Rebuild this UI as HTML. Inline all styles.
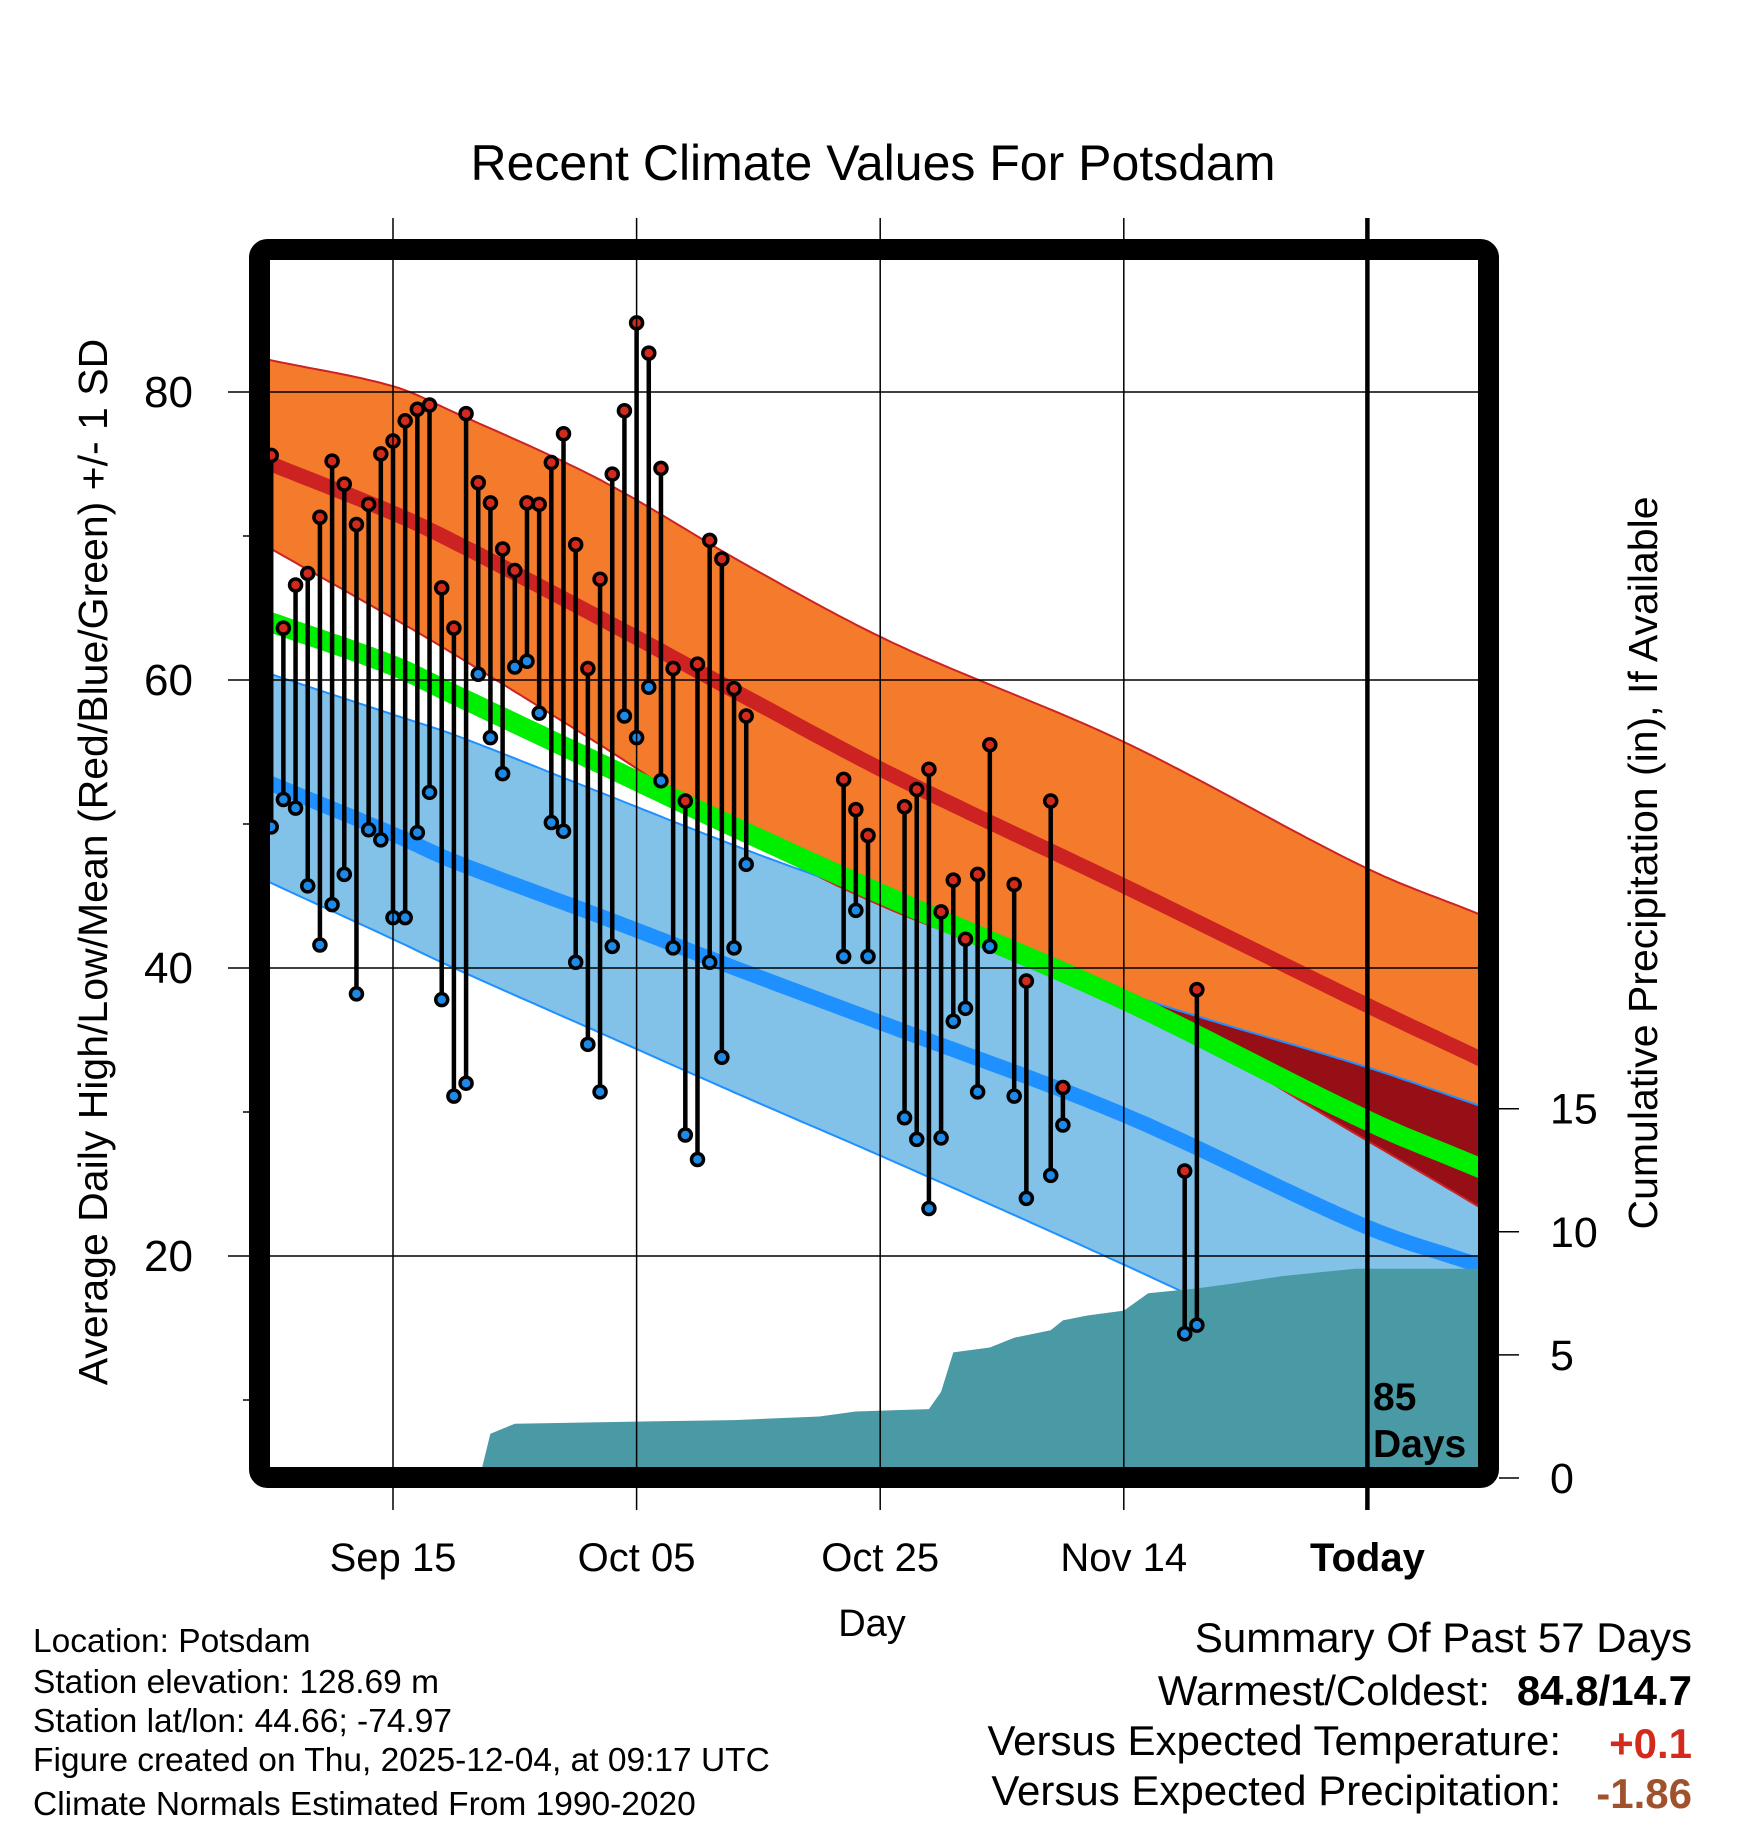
<!DOCTYPE html>
<html><head><meta charset="utf-8"><style>
html,body{margin:0;padding:0;background:#fff;}
svg{display:block;font-family:"Liberation Sans",sans-serif;}
</style></head><body>
<svg id="chart" width="1748" height="1828" viewBox="0 0 1748 1828" xmlns="http://www.w3.org/2000/svg">
<defs><clipPath id="plotclip"><rect x="270" y="260" width="1208" height="1207"/></clipPath></defs>
<text x="873" y="180" font-size="50" text-anchor="middle">Recent Climate Values For Potsdam</text>
<g id="plot" clip-path="url(#plotclip)"></g>
<g id="axes"></g>
<text transform="translate(107,862) rotate(-90)" font-size="41" text-anchor="middle">Average Daily High/Low/Mean (Red/Blue/Green) +/- 1 SD</text>
<text transform="translate(1657,863) rotate(-90)" font-size="41" text-anchor="middle">Cumulative Precipitation (in), If Available</text>
<text x="872" y="1636" font-size="38" text-anchor="middle">Day</text>
<g font-size="33.5">
<text x="33" y="1652">Location: Potsdam</text>
<text x="33" y="1693">Station elevation: 128.69 m</text>
<text x="33" y="1732">Station lat/lon: 44.66; -74.97</text>
<text x="33" y="1771">Figure created on Thu, 2025-12-04, at 09:17 UTC</text>
<text x="33" y="1815">Climate Normals Estimated From 1990-2020</text>
</g>
<g font-size="42">
<text x="1692" y="1652" text-anchor="end">Summary Of Past 57 Days</text>
<text x="1490" y="1705" text-anchor="end">Warmest/Coldest:</text>
<text x="1692" y="1705" text-anchor="end" font-weight="bold">84.8/14.7</text>
<text x="1561" y="1755" text-anchor="end">Versus Expected Temperature:</text>
<text x="1692" y="1758" text-anchor="end" font-weight="bold" fill="#d42a1e">+0.1</text>
<text x="1561" y="1805" text-anchor="end">Versus Expected Precipitation:</text>
<text x="1692" y="1808" text-anchor="end" font-weight="bold" fill="#a0522d">-1.86</text>
</g>
</svg>
<script>
// ---- data ----
const xTickDays = [0, 20, 40, 60, 80];
const xTickLabels = ["Sep 15", "Oct 05", "Oct 25", "Nov 14", "Today"];
const yTicks = [20, 40, 60, 80];
const yMinorTicks = [10, 30, 50, 70];
const precipTicks = [0, 5, 10, 15];
const todayDay = 80;
const normDays = [-10, 0, 5, 17, 29, 41, 60, 80, 89];
const normHiUpper = [82.2, 80.4, 78.6, 73.9, 68.0, 62.6, 55.7, 46.9, 43.8];
const normHiMean = [75.0, 71.6, 69.6, 64.3, 58.8, 53.4, 45.7, 37.4, 33.8];
const normHiLower = [69.1, 64.3, 61.8, 55.5, 49.0, 44.0, 37.8, 28.0, 23.5];
const normMean = [64.0, 61.0, 59.0, 54.2, 49.4, 44.8, 37.8, 29.4, 26.2];
const normLoUpper = [60.4, 57.6, 56.2, 52.2, 48.2, 44.5, 38.3, 33.1, 30.5];
const normLoMean = [52.8, 49.3, 47.4, 43.6, 39.7, 35.9, 29.8, 22.0, 19.4];
const normLoLower = [45.9, 42.0, 40.0, 35.5, 31.0, 26.6, 19.4, 11.5, 8.0];
const obsDays = [-10,-9,-8,-7,-6,-5,-4,-3,-2,-1,0,1,2,3,4,5,6,7,8,9,10,11,12,13,14,15,16,17,18,19,20,21,22,23,24,25,26,27,28,29,37,38,39,42,43,44,45,46,47,48,49,51,52,54,55,65,66];
const obsHigh = [75.6,63.6,66.6,67.4,71.3,75.2,73.6,70.8,72.2,75.7,76.6,78.0,78.8,79.1,66.4,63.6,78.5,73.7,72.3,69.1,67.6,72.3,72.2,75.1,77.1,69.4,60.8,67.0,74.3,78.7,84.8,82.7,74.7,60.8,51.6,61.1,69.7,68.4,59.4,57.5,53.1,51.0,49.2,51.2,52.4,53.8,43.9,46.1,42.0,46.5,55.5,45.8,39.1,51.6,31.7,25.9,38.5];
const obsLow = [49.8,51.7,51.1,45.7,41.6,44.4,46.5,38.2,49.6,48.9,43.5,43.5,49.4,52.2,37.8,31.1,32.0,60.4,56.0,53.5,60.9,61.3,57.7,50.1,49.5,40.4,34.7,31.4,41.5,57.5,56.0,59.5,53.0,41.4,28.4,26.7,40.4,33.8,41.4,47.2,40.8,44.0,40.8,29.6,28.1,23.3,28.2,36.3,37.2,31.4,41.5,31.1,24.0,25.6,29.1,14.6,15.2];
const precipDays = [7.1,8,10,21,28,35,38,44,45,46,49,51,54,55,57,60,62,66,69,73,79,90];
const precipTotals = [0,1.8,2.2,2.3,2.35,2.5,2.7,2.8,3.5,5.1,5.3,5.7,6.0,6.4,6.6,6.8,7.5,7.7,7.9,8.2,8.5,8.5];

// ---- scales ----
const X0 = 393, PXD = 12.18;
function xs(d){ return X0 + PXD*d; }
function ys(v){ return 392 + (80 - v)*14.4; }
function ps(p){ return 1478 - p*24.62; }
const NS = "http://www.w3.org/2000/svg";
function mk(tag, attrs, parent){ const e=document.createElementNS(NS,tag); for(const k in attrs) e.setAttribute(k,attrs[k]); parent.appendChild(e); return e; }
function slope(X,Y,i){
  const n=X.length;
  if(i===0) return (Y[1]-Y[0])/(X[1]-X[0]);
  if(i===n-1) return (Y[n-1]-Y[n-2])/(X[n-1]-X[n-2]);
  return (Y[i+1]-Y[i-1])/(X[i+1]-X[i-1]);
}
function interp(X, Y, x){
  const n=X.length;
  if (x<=X[0]) return Y[0]+slope(X,Y,0)*(x-X[0]);
  if (x>=X[n-1]) return Y[n-1]+slope(X,Y,n-1)*(x-X[n-1]);
  let i=0; while (x>X[i+1]) i++;
  const h=X[i+1]-X[i], t=(x-X[i])/h;
  const m0=slope(X,Y,i)*h, m1=slope(X,Y,i+1)*h;
  const t2=t*t, t3=t2*t;
  return (2*t3-3*t2+1)*Y[i]+(t3-2*t2+t)*m0+(-2*t3+3*t2)*Y[i+1]+(t3-t2)*m1;
}
const plot = document.getElementById('plot');
const axes = document.getElementById('axes');
const dd = []; for (let d=-11; d<=90; d+=0.5) dd.push(d);
function f(arr,d){ return interp(normDays, arr, d); }
function band(upper, lower){
  let s = dd.map((d,i)=>(i?'L':'M')+xs(d).toFixed(1)+','+ys(upper(d)).toFixed(1)).join('');
  s += dd.slice().reverse().map(d=>'L'+xs(d).toFixed(1)+','+ys(lower(d)).toFixed(1)).join('') + 'Z';
  return s;
}
function line(fn){ return dd.map((d,i)=>(i?'L':'M')+xs(d).toFixed(1)+','+ys(fn(d)).toFixed(1)).join(''); }

// bands
const hiBand = mk('path',{d:band(d=>f(normHiUpper,d), d=>f(normHiLower,d)), fill:'#f47a2c'}, plot);


const loBand = mk('path',{d:band(d=>f(normLoUpper,d), d=>f(normLoLower,d)), fill:'#82c1e8'}, plot);


const ovBand = mk('path',{d:band(d=>Math.min(f(normHiUpper,d),f(normLoUpper,d)), d=>Math.min(Math.min(f(normHiUpper,d),f(normLoUpper,d)), Math.max(f(normHiLower,d),f(normLoLower,d)))), fill:'#960f16'}, plot);


[[normHiUpper,'#cc2222','high-upper-edge'],[normHiLower,'#cc2222','high-lower-edge'],[normLoUpper,'#1e90ff','low-upper-edge'],[normLoLower,'#1e90ff','low-lower-edge']].forEach(a=>{
  const e = mk('path',{d:line(d=>f(a[0],d)), fill:'none', stroke:a[1], 'stroke-width':2}, plot);
  
  
});
const hiMeanL = mk('path',{d:line(d=>f(normHiMean,d)), fill:'none', stroke:'#cc2222', 'stroke-width':15}, plot);


const loMeanL = mk('path',{d:line(d=>f(normLoMean,d)), fill:'none', stroke:'#1e90ff', 'stroke-width':15}, plot);


const meanL = mk('path',{d:line(d=>f(normMean,d)), fill:'none', stroke:'#00ee00', 'stroke-width':20}, plot);



// precip area
let pp = 'M'+xs(precipDays[0])+','+ps(0);
precipDays.forEach((d,i)=>{ pp += 'L'+xs(d).toFixed(1)+','+ps(precipTotals[i]).toFixed(1); });
pp += 'L'+xs(precipDays[precipDays.length-1])+','+ps(0)+'Z';
const pa = mk('path',{d:pp, fill:'#4a9aa5'}, plot);



// grid
yTicks.forEach(v=>{
  const g = mk('line',{x1:228,x2:1478,y1:ys(v),y2:ys(v),stroke:'#000','stroke-width':1.5}, axes);
  
  
});
xTickDays.forEach((d,i)=>{
  const g = mk('line',{x1:xs(d),x2:xs(d),y1:218,y2:1510,stroke:'#000','stroke-width':i===4?4.5:1.5}, axes);
  
  
});
yMinorTicks.forEach(v=>{
  const t = mk('line',{x1:243,x2:252,y1:ys(v),y2:ys(v),stroke:'#000','stroke-width':1.5}, axes);
  
  
});

// observations
obsDays.forEach((d,i)=>{
  const s = mk('line',{x1:xs(d),x2:xs(d),y1:ys(obsHigh[i]),y2:ys(obsLow[i]),stroke:'#000','stroke-width':4.5}, plot);
  
  
});
obsDays.forEach((d,i)=>{
  const h = mk('circle',{cx:xs(d),cy:ys(obsHigh[i]),r:6,fill:'#d42a1e',stroke:'#000','stroke-width':3.5}, plot);
  
  
  const l = mk('circle',{cx:xs(d),cy:ys(obsLow[i]),r:6,fill:'#1e8ae8',stroke:'#000','stroke-width':3.5}, plot);
  
  
});

// frame
const fr = mk('rect',{x:259.5,y:249.5,width:1229,height:1228,rx:8,fill:'none',stroke:'#000','stroke-width':21}, axes);



// 85 days label
const t85 = mk('text',{x:1373,y:1410,'font-size':39,'font-weight':'bold'}, axes); t85.textContent='85';


const tdays = mk('text',{x:1373,y:1457,'font-size':39,'font-weight':'bold'}, axes); tdays.textContent='Days';



// tick labels
yTicks.forEach(v=>{
  const t = mk('text',{x:193,y:ys(v)+15,'font-size':44,'text-anchor':'end'}, axes); t.textContent=String(v);
  
  
});
xTickDays.forEach((d,i)=>{
  const t = mk('text',{x:xs(d),y:1571,'font-size':40,'text-anchor':'middle','font-weight':i===4?'bold':'normal'}, axes); t.textContent=xTickLabels[i];
  
  
});
precipTicks.forEach(p=>{
  const tk = mk('line',{x1:1499,x2:1519,y1:ps(p),y2:ps(p),stroke:'#000','stroke-width':1.5}, axes);
  
  
  const t = mk('text',{x:1550,y:ps(p)+15,'font-size':43}, axes); t.textContent=String(p);
  
  
});
</script>
</body></html>
